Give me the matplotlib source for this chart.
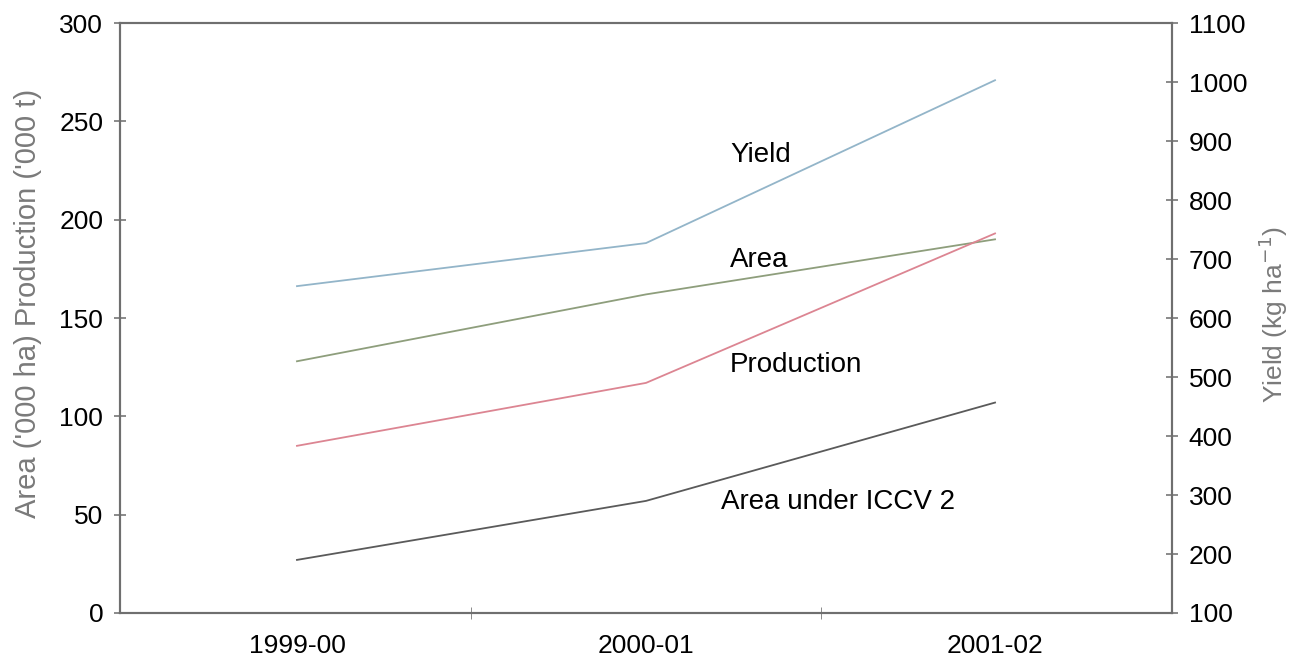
import matplotlib
matplotlib.use("Agg")
import matplotlib.pyplot as plt
from matplotlib.ticker import FixedLocator

plt.rcParams['font.family'] = ['Liberation Sans', 'DejaVu Sans']

seasons = ["1999-00", "2000-01", "2001-02"]
area = [128, 162, 190]
production = [85, 117, 193]
area_iccv2 = [27, 57, 107]
yield_kg = [654, 727, 1003]

left_ticks = [0, 50, 100, 150, 200, 250, 300]
right_ticks = [100, 200, 300, 400, 500, 600, 700, 800, 900, 1000, 1100]

fig = plt.figure(figsize=(13.02, 6.64), dpi=100)
ax = fig.add_axes([120/1302, 1-613/664, 1052/1302, 590/664])
ax2 = ax.twinx()

x = list(range(len(seasons)))
ax.plot(x, area, color="#8e9e7c", lw=1.3, zorder=3)
ax.plot(x, production, color="#dc8592", lw=1.3, zorder=4)
ax.plot(x, area_iccv2, color="#5a5a5a", lw=1.3, zorder=3)
ax2.plot(x, yield_kg, color="#93b5c9", lw=1.3, zorder=3)

ax.set_xlim(-0.507, 2.507)
ax.set_ylim(0, 300)
ax2.set_ylim(100, 1100)

ax.set_xticks(x)
ax.set_xticklabels(seasons)
ax.xaxis.set_minor_locator(FixedLocator([0.5, 1.5]))
ax.tick_params(axis='x', which='major', length=0, pad=15, labelsize=19)
ax.tick_params(axis='x', which='minor', length=8, direction='inout', color="#777777")

ax.set_yticks(left_ticks)
ax.tick_params(axis='y', which='major', length=8, direction='inout', color="#777777",
               width=1.2, pad=8, labelsize=19)
ax2.set_yticks(right_ticks)
ax2.tick_params(axis='y', which='major', length=8, direction='inout', color="#777777",
                width=1.2, pad=8, labelsize=19)

for a in (ax, ax2):
    for s in a.spines.values():
        s.set_color("#6f6f6f")
        s.set_linewidth(1.5)

fig.text(28/1302, 1-303/664, "Area ('000 ha) Production ('000 t)", rotation=90,
         ha='center', va='center', fontsize=21, color="#7a7a7a")
fig.text(1273/1302, 1-315/664, "Yield (kg ha$^{-1}$)", rotation=90,
         ha='center', va='center', fontsize=19, color="#7a7a7a")

lbl = dict(transform=ax.transAxes, fontsize=20, color="black", ha='left', va='center')
ax.text(0.580, 0.776, "Yield", **lbl)
ax.text(0.580, 0.598, "Area", **lbl)
ax.text(0.580, 0.420, "Production", **lbl)
ax.text(0.571, 0.188, "Area under ICCV 2", **lbl)

fig.savefig("out.png", dpi=100)
